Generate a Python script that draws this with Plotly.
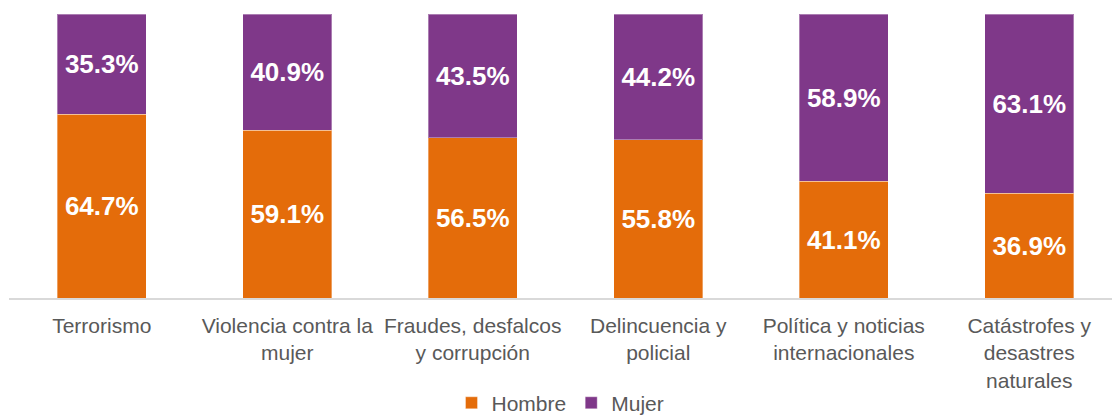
import plotly.graph_objects as go

categories = [
    "Terrorismo",
    "Violencia contra la<br>mujer",
    "Fraudes, desfalcos<br>y corrupción",
    "Delincuencia y<br>policial",
    "Política y noticias<br>internacionales",
    "Catástrofes y<br>desastres<br>naturales",
]
hombre = [64.7, 59.1, 56.5, 55.8, 41.1, 36.9]
mujer = [35.3, 40.9, 43.5, 44.2, 58.9, 63.1]

ORANGE = "#E46C0A"
PURPLE = "#7F3889"
FONT = "Liberation Sans, Arial, sans-serif"

fig = go.Figure()
for name, vals, color in [("Hombre", hombre, ORANGE), ("Mujer", mujer, PURPLE)]:
    fig.add_trace(go.Bar(
        name=name,
        x=list(range(len(categories))),
        y=vals,
        width=0.48,
        marker=dict(color=color, line=dict(color="rgba(255,255,255,0.35)", width=1)),
        text=[f"{v:.1f}%" for v in vals],
        textposition="inside",
        insidetextanchor="middle",
        textangle=0,
        constraintext="none",
        textfont=dict(color="white", size=26, family=FONT, weight="bold"),
        hoverinfo="skip",
    ))

fig.update_layout(
    barmode="stack",
    width=1112,
    height=415,
    margin=dict(l=9, r=0, t=14, b=117, autoexpand=False),
    plot_bgcolor="white",
    paper_bgcolor="white",
    font=dict(family=FONT, color="#595959", size=21),
    uniformtext=dict(mode=False),
    legend=dict(
        orientation="h",
        traceorder="normal",
        x=0.5, xanchor="center",
        y=-0.298, yanchor="top",
        font=dict(size=21, color="#595959"),
        itemclick=False,
        itemwidth=30,
        tracegroupgap=0,
    ),
    xaxis=dict(
        range=[-0.5, 5.446],
        tickmode="array",
        tickvals=list(range(len(categories))),
        ticktext=categories,
        showline=True,
        linecolor="#D9D9D9",
        linewidth=1.5,
        showgrid=False,
        zeroline=False,
        ticks="",
        ticklabelstandoff=8,
        automargin=False,
        tickfont=dict(size=21, color="#595959"),
    ),
    yaxis=dict(
        range=[0, 100],
        visible=False,
        showgrid=False,
        zeroline=False,
        automargin=False,
    ),
)

fig.write_html(
    "out.html",
    config={"displayModeBar": False},
    post_script="document.body.style.margin='0px';document.body.style.overflow='hidden';",
)
